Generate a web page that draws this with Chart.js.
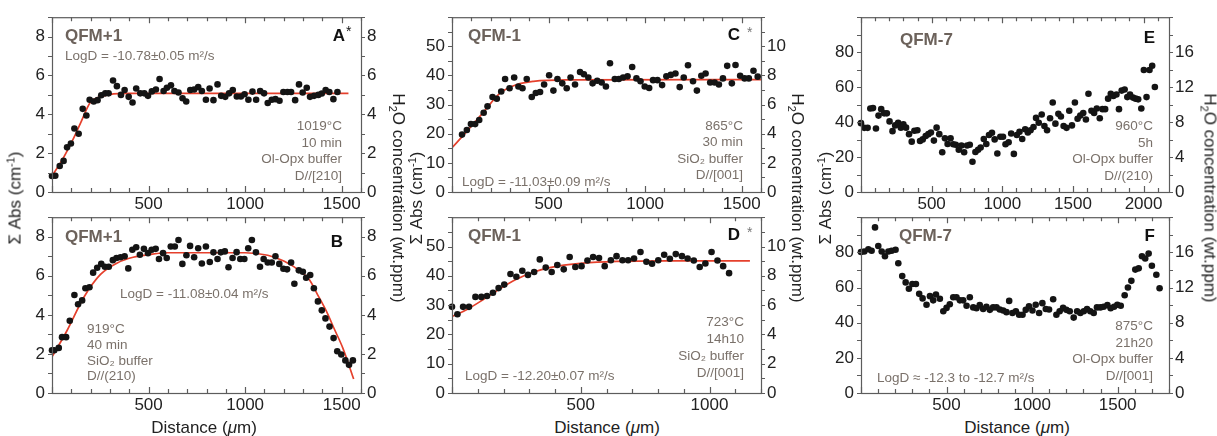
<!DOCTYPE html>
<html>
<head>
<meta charset="utf-8">
<title>H2O diffusion profiles</title>
<script src="https://cdn.jsdelivr.net/npm/chart.js@4.4.1/dist/chart.umd.min.js"></script>
<style>
  html, body { margin: 0; background: #fff; }
  #fig { position: relative; width: 1217px; height: 436px; overflow: hidden;
         font-family: 'Liberation Sans', Arial, sans-serif; color: #222; }
  #fig canvas { position: absolute; }
  .ttl { position: absolute; white-space: nowrap; font-size: 17px; line-height: 1; }
  .ttl sup { font-size: 11px; vertical-align: 6px; line-height: 0; }
  .ttl sub { font-size: 11px; vertical-align: -4px; line-height: 0; }
  .up   { transform: translate(-50%, -50%) rotate(-90deg); }
  .down { transform: translate(-50%, -50%) rotate(90deg); }
  .mid  { transform: translate(-50%, -50%); }
</style>
</head>
<body>
<div id="fig">
  <div class="ttl up" style="left:15px;top:198px">&Sigma; Abs (cm<sup>-1</sup>)</div>
  <div class="ttl up" style="left:416px;top:198px">&Sigma; Abs (cm<sup>-1</sup>)</div>
  <div class="ttl up" style="left:825px;top:198px">&Sigma; Abs (cm<sup>-1</sup>)</div>
  <div class="ttl down" style="left:398px;top:198px">H<sub>2</sub>O concentration (wt.ppm)</div>
  <div class="ttl down" style="left:797px;top:198px">H<sub>2</sub>O concentration (wt.ppm)</div>
  <div class="ttl down" style="left:1210px;top:198px">H<sub>2</sub>O concentration (wt.ppm)</div>
  <div class="ttl mid" style="left:204px;top:427px">Distance (<i>&mu;</i>m)</div>
  <div class="ttl mid" style="left:607px;top:427px">Distance (<i>&mu;</i>m)</div>
  <div class="ttl mid" style="left:1017px;top:427px">Distance (<i>&mu;</i>m)</div>
</div>
<script>
// profili: distanza (um) e Sigma Abs (cm-1)

// A - QFM+1, 1019 C
const aDist = [0, 17, 40, 60, 78, 98, 116, 138, 159, 178,
  195, 216, 236, 255, 276, 293, 316, 336, 357, 376,
  397, 417, 436, 457, 478, 497, 517, 538, 557, 578,
  595, 616, 634, 655, 676, 695, 716, 736, 757, 776,
  797, 816, 836, 857, 876, 897, 917, 936, 957, 978,
  997, 1017, 1038, 1057, 1078, 1098, 1117, 1138, 1157, 1178,
  1198, 1219, 1238, 1259, 1279, 1298, 1319, 1336, 1357, 1379,
  1397, 1417, 1436, 1457, 1478];
const aAbs = [0.82, 0.84, 1.34, 1.6, 2.3, 2.5, 3.27, 3.0, 4.28, 3.94,
  4.75, 4.66, 4.73, 4.98, 5.08, 5.08, 5.74, 5.45, 5.0, 5.25,
  4.9, 4.61, 5.33, 5.08, 5.08, 4.95, 5.18, 5.28, 5.82, 5.2,
  5.37, 5.49, 5.2, 5.12, 4.83, 4.66, 5.25, 5.28, 5.4, 5.2,
  4.75, 5.33, 4.73, 5.54, 4.95, 4.9, 5.08, 5.25, 4.92, 4.92,
  5.03, 4.75, 5.17, 4.75, 5.2, 5.08, 4.58, 4.75, 4.78, 4.7,
  5.15, 5.15, 5.15, 4.73, 5.54, 5.12, 5.37, 4.9, 4.95, 5.0,
  5.07, 5.25, 5.15, 4.78, 5.15];
const aFitDist = [0, 50, 112, 150, 198, 250, 302, 350, 400, 1535];
const aFitAbs = [0.84, 1.6, 2.77, 3.6, 4.61, 4.9, 5.03, 5.07, 5.08, 5.08];

// B - QFM+1, 919 C
const bDist = [0, 12, 35, 52, 73, 92, 116, 135, 156, 173,
  194, 213, 234, 255, 274, 294, 315, 334, 355, 376,
  395, 416, 436, 455, 476, 497, 516, 537, 554, 575,
  594, 615, 636, 655, 675, 696, 715, 736, 757, 776,
  797, 817, 836, 857, 874, 895, 914, 935, 956, 975,
  996, 1016, 1035, 1056, 1077, 1096, 1117, 1138, 1157, 1177,
  1198, 1217, 1238, 1255, 1278, 1299, 1316, 1337, 1356, 1377,
  1397, 1416, 1437, 1458, 1477, 1498, 1519, 1538, 1558];
const bAbs = [2.19, 2.19, 2.31, 2.86, 2.86, 3.7, 5.02, 4.54, 4.74, 5.36,
  5.41, 6.16, 6.41, 6.61, 6.46, 6.46, 6.8, 6.91, 6.95, 7.0,
  6.38, 7.33, 7.46, 7.08, 7.38, 7.16, 7.33, 7.38, 6.86, 7.16,
  6.91, 7.5, 7.5, 7.83, 6.61, 7.05, 7.53, 6.95, 7.41, 6.63,
  7.5, 6.71, 7.2, 6.86, 7.2, 7.25, 6.44, 6.91, 7.21, 6.86,
  6.86, 7.41, 7.83, 7.2, 6.46, 6.86, 6.68, 6.68, 7.0, 6.61,
  6.36, 6.33, 6.68, 5.59, 6.28, 6.21, 5.9, 6.04, 5.36, 4.69,
  4.23, 3.82, 3.4, 2.81, 2.14, 1.97, 1.67, 1.44, 1.67];
const bFitDist = [0, 78, 165, 251, 338, 420, 511, 600, 1000, 1117, 1203, 1290, 1333, 1377, 1420, 1463, 1506, 1562];
const bFitAbs = [1.85, 3.2, 4.9, 6.07, 6.66, 6.95, 7.1, 7.18, 7.18, 7.05, 6.74, 6.2, 5.8, 5.0, 4.2, 3.25, 2.3, 0.72];

// C - QFM-1, 865 C
const cDist = [52, 77, 98, 120, 141, 164, 184, 210, 232, 255,
  275, 298, 322, 344, 365, 387, 413, 434, 456, 477,
  503, 525, 546, 571, 594, 614, 637, 663, 683, 706,
  728, 752, 775, 797, 818, 843, 864, 886, 909, 933,
  955, 976, 998, 1021, 1041, 1064, 1088, 1110, 1133, 1157,
  1179, 1200, 1222, 1248, 1268, 1291, 1313, 1337, 1360, 1382,
  1403, 1425, 1449, 1468, 1492, 1515, 1537, 1561, 1583];
const cAbs = [19.7, 21.3, 23.3, 23.3, 24.7, 27.2, 29.4, 32.6, 32.0, 34.5,
  38.8, 35.6, 39.3, 36.2, 35.6, 38.8, 32.6, 34.0, 34.3, 36.9,
  40.1, 34.8, 38.8, 37.3, 35.6, 39.3, 36.9, 41.2, 40.4, 39.3,
  37.3, 38.2, 37.6, 36.2, 44.2, 38.8, 38.8, 39.3, 39.7, 42.9,
  39.0, 38.0, 36.2, 35.7, 38.4, 38.4, 36.7, 39.7, 40.2, 40.7,
  36.0, 39.3, 43.5, 38.0, 34.8, 39.9, 40.7, 37.6, 37.6, 36.9,
  39.0, 43.3, 37.3, 43.6, 39.9, 39.0, 39.0, 41.6, 39.6];
const cFitDist = [0, 77, 164, 250, 336, 422, 594, 1600];
const cFitAbs = [15.2, 20.8, 27.5, 34, 36.9, 38, 38.5, 38.6];

// D - QFM-1, 723 C
const dDist = [0, 21, 43, 66, 91, 114, 136, 159, 181, 203,
  227, 250, 273, 295, 319, 341, 364, 387, 409, 434,
  457, 479, 503, 526, 548, 571, 593, 617, 639, 662,
  684, 707, 732, 755, 777, 801, 824, 846, 869, 893,
  915, 939, 962, 984, 1008, 1031, 1053, 1076];
const dAbs = [29.4, 26.9, 29.4, 29.4, 32.8, 32.8, 33.1, 34.2, 35.8, 37.0,
  40.6, 39.7, 41.7, 40.3, 41.3, 45.6, 42.8, 41.3, 43.7, 42.2,
  46.4, 43.0, 43.3, 45.2, 46.4, 46.1, 43.3, 45.3, 46.7, 45.3,
  45.3, 45.9, 48.1, 44.8, 44.1, 45.3, 47.2, 45.8, 47.4, 46.7,
  45.9, 45.2, 43.0, 44.2, 48.1, 45.2, 43.3, 40.9];
const dFitDist = [0, 60, 120, 185, 250, 315, 380, 509, 639, 833, 1157];
const dFitAbs = [26.1, 28.6, 31.8, 35.5, 38.8, 41.2, 42.8, 44.3, 44.9, 45.1, 45.1];

// E - QFM-7, 960 C (nessun fit)
const eDist = [0, 23, 47, 66, 85, 106, 124, 143, 164, 183,
  202, 223, 242, 263, 282, 300, 319, 340, 359, 378,
  399, 418, 437, 458, 477, 495, 516, 535, 554, 575,
  594, 613, 634, 653, 671, 692, 711, 730, 751, 770,
  789, 810, 829, 847, 869, 887, 906, 927, 946, 965,
  986, 1005, 1023, 1045, 1063, 1082, 1103, 1122, 1141, 1162,
  1181, 1200, 1221, 1239, 1258, 1279, 1298, 1317, 1338, 1357,
  1376, 1397, 1415, 1434, 1455, 1474, 1493, 1514, 1533, 1552,
  1573, 1592, 1610, 1631, 1650, 1669, 1690, 1709, 1728, 1749,
  1768, 1786, 1808, 1826, 1845, 1866, 1885, 1904, 1925, 1944,
  1962, 1984, 2002, 2021, 2042, 2061, 2080];
const eAbs = [39.4, 36.7, 36.7, 47.8, 48.0, 36.3, 43.7, 47.4, 45.0, 45.0,
  40.4, 34.8, 38.1, 39.6, 36.8, 38.7, 36.8, 33.1, 28.8, 35.0,
  35.3, 29.2, 30.1, 32.0, 33.1, 34.0, 29.4, 36.8, 33.1, 22.7,
  30.7, 27.5, 30.7, 27.3, 27.0, 24.2, 26.6, 22.7, 26.6, 27.0,
  17.3, 22.9, 24.2, 25.5, 30.3, 27.5, 32.6, 33.9, 30.1, 22.0,
  31.6, 31.6, 27.3, 28.5, 33.5, 21.8, 32.6, 34.4, 30.3, 35.9,
  34.0, 35.3, 37.2, 42.4, 39.6, 44.3, 37.8, 35.3, 42.2, 51.2,
  39.1, 44.7, 43.2, 37.8, 36.7, 46.5, 38.1, 51.2, 41.9, 43.7,
  45.2, 41.5, 56.2, 46.5, 45.2, 47.8, 42.2, 47.4, 47.4, 53.4,
  56.2, 54.9, 55.8, 47.4, 58.0, 58.6, 54.3, 55.8, 54.0, 53.4,
  53.0, 47.8, 69.8, 54.3, 69.8, 72.2, 60.1];

// F - QFM-7, 875 C (nessun fit)
const fDist = [0, 19, 43, 62, 82, 101, 121, 140, 160, 179,
  202, 218, 241, 261, 280, 300, 321, 340, 360, 383,
  403, 422, 438, 461, 481, 500, 519, 539, 558, 578,
  597, 617, 636, 656, 675, 694, 714, 733, 753, 772,
  792, 811, 831, 850, 866, 885, 905, 924, 944, 963,
  982, 1002, 1021, 1041, 1060, 1080, 1099, 1123, 1142, 1161,
  1181, 1200, 1220, 1243, 1263, 1282, 1302, 1321, 1340, 1360,
  1379, 1399, 1418, 1440, 1459, 1479, 1498, 1518, 1541, 1560,
  1580, 1603, 1623, 1642, 1661, 1681, 1700, 1726, 1745];
const fAbs = [80.2, 80.5, 81.8, 80.9, 94.2, 83.6, 80.5, 77.8, 80.5, 80.9,
  81.5, 73.8, 66.5, 62.9, 59.3, 62.0, 62.0, 56.4, 53.8, 50.2,
  55.1, 52.7, 56.0, 53.6, 46.5, 48.4, 50.5, 54.5, 54.5, 52.7,
  52.7, 49.6, 54.5, 48.7, 48.2, 50.0, 47.8, 49.1, 47.3, 48.7,
  48.7, 47.5, 46.9, 46.0, 52.4, 45.5, 46.5, 44.5, 44.5, 47.3,
  49.3, 46.9, 50.2, 45.5, 51.1, 47.8, 47.5, 53.3, 44.5, 46.5,
  48.4, 47.3, 46.5, 42.9, 46.5, 45.5, 46.5, 47.8, 46.5, 45.5,
  48.7, 48.7, 49.1, 50.0, 48.2, 49.1, 50.2, 49.6, 55.6, 60.0,
  63.8, 70.2, 70.9, 77.8, 76.5, 79.3, 72.4, 67.3, 59.6];

const RED = '#e5402c';
const DOT = '#141414';
const FRAME = '#5c5c5c';
const NOTE = '#7a716a';
const QFM = '#6c625b';
const FONT = "'Liberation Sans', Arial, sans-serif";

// margini fissi attorno al riquadro del grafico
const PAD_L = 52, PAD_R = 44, PAD_T = 14, PAD_B = 23;

const q = (t, x, y) => ({ t, x, y, font: 'bold 17px ' + FONT, color: QFM, align: 'left' });
const letter = (t, x, y) => ({ t, x, y, font: 'bold 17px ' + FONT, color: '#111', align: 'right' });
const star = (t, x, y, color) => ({ t, x, y, font: '14px ' + FONT, color: color, align: 'left' });
const txt = (t, x, y, align) => ({ t, x, y, font: '13.5px ' + FONT, color: NOTE, align: align });
const lines = (arr, x, y0, dy, align) => arr.map((t, i) => txt(t, x, y0 + i * dy, align));

const panels = [
  { box: { l: 52, t: 14, r: 361, b: 192 }, xMax: 1600, yMax: 9, yStep: 1, yEvery: 2, rMax: 9, rStep: 1, rEvery: 2,
    dist: aDist, abs: aAbs, fitDist: aFitDist, fitAbs: aFitAbs,
    notes: [q('QFM+1', 13, 19), txt('LogD = -10.78\u00b10.05 m\u00b2/s', 13, 39, 'left'),
      letter('A', 293, 19), star('*', 294, 15, '#111'),
      ...lines(['1019\u00b0C', '10 min', 'Ol-Opx buffer', 'D//[210]'], 290, 109, 16.7, 'right')] },
  { box: { l: 52, t: 214, r: 361, b: 393 }, xMax: 1600, yMax: 9, yStep: 1, yEvery: 2, rMax: 9, rStep: 1, rEvery: 2,
    dist: bDist, abs: bAbs, fitDist: bFitDist, fitAbs: bFitAbs,
    notes: [q('QFM+1', 13, 20), letter('B', 291, 25),
      txt('LogD = -11.08\u00b10.04 m\u00b2/s', 68, 77, 'left'),
      ...lines(['919\u00b0C', '40 min', 'SiO\u2082 buffer', 'D//(210)'], 35, 112, 15.8, 'left')] },
  { box: { l: 452, t: 14, r: 761, b: 192 }, xMax: 1600, yMax: 60, yStep: 5, yEvery: 10, rMax: 12, rStep: 1, rEvery: 2,
    dist: cDist, abs: cAbs, fitDist: cFitDist, fitAbs: cFitAbs,
    notes: [q('QFM-1', 16, 19), letter('C', 288, 18), star('*', 295, 16, '#777'),
      txt('LogD = -11.03\u00b10.09 m\u00b2/s', 10, 165, 'left'),
      ...lines(['865\u00b0C', '30 min', 'SiO\u2082 buffer', 'D//[001]'], 291, 109, 16.3, 'right')] },
  { box: { l: 452, t: 214, r: 761, b: 393 }, xMax: 1200, yMax: 60, yStep: 5, yEvery: 10, rMax: 12, rStep: 1, rEvery: 2,
    dist: dDist, abs: dAbs, fitDist: dFitDist, fitAbs: dFitAbs,
    notes: [q('QFM-1', 16, 19), letter('D', 288, 18), star('*', 295, 16, '#777'),
      txt('LogD = -12.20\u00b10.07 m\u00b2/s', 13, 159, 'left'),
      ...lines(['723\u00b0C', '14h10', 'SiO\u2082 buffer', 'D//[001]'], 292, 105, 16.9, 'right')] },
  { box: { l: 861, t: 14, r: 1169, b: 192 }, xMax: 2180, yMax: 100, yStep: 10, yEvery: 20, rMax: 20, rStep: 2, rEvery: 4,
    dist: eDist, abs: eAbs,
    notes: [q('QFM-7', 39, 23), letter('E', 294, 21),
      ...lines(['960\u00b0C', '5h', 'Ol-Opx buffer', 'D//(210)'], 292, 109, 16.7, 'right')] },
  { box: { l: 861, t: 214, r: 1169, b: 393 }, xMax: 1800, yMax: 100, yStep: 10, yEvery: 20, rMax: 20, rStep: 2, rEvery: 4,
    dist: fDist, abs: fAbs,
    notes: [q('QFM-7', 38, 19), letter('F', 294, 19),
      txt('LogD \u2248 -12.3 to -12.7 m\u00b2/s', 16, 161, 'left'),
      ...lines(['875\u00b0C', '21h20', 'Ol-Opx buffer', 'D//[001]'], 292, 109, 16.7, 'right')] }
];

/**
 * Cornice, tacche e testi del pannello: le tacche dell'asse x sono interne
 * (sopra e sotto), quelle degli assi y esterne.
 */
const panelDecor = {
  id: 'panelDecor',
  afterDatasetsDraw(chart, args, opts) {
    const { ctx, chartArea: a, scales } = chart;
    ctx.save();
    ctx.strokeStyle = FRAME;
    ctx.lineWidth = 1.2;
    ctx.beginPath();
    scales.x.ticks.forEach(t => {
      const px = Math.round(scales.x.getPixelForValue(t.value)) + 0.5;
      const len = Math.round(t.value) % 500 === 0 ? 6 : 4;
      ctx.moveTo(px, a.bottom); ctx.lineTo(px, a.bottom - len);
      ctx.moveTo(px, a.top); ctx.lineTo(px, a.top + len);
    });
    scales.y.ticks.forEach(t => {
      const py = Math.round(scales.y.getPixelForValue(t.value)) + 0.5;
      ctx.moveTo(a.left - 4, py); ctx.lineTo(a.left, py);
    });
    scales.y2.ticks.forEach(t => {
      const py = Math.round(scales.y2.getPixelForValue(t.value)) + 0.5;
      ctx.moveTo(a.right, py); ctx.lineTo(a.right + 4, py);
    });
    ctx.stroke();
    ctx.strokeRect(a.left + 0.5, a.top + 0.5, a.width, a.height);

    ctx.textBaseline = 'middle';
    (opts.notes || []).forEach(n => {
      ctx.font = n.font;
      ctx.fillStyle = n.color;
      ctx.textAlign = n.align;
      ctx.fillText(n.t, a.left + n.x, a.top + n.y);
    });
    ctx.restore();
  }
};

function labelEvery(every, max) {
  return v => {
    const r = Math.round(v * 1000) / 1000;
    return (r < max && Math.abs(r / every - Math.round(r / every)) < 1e-6) ? String(r) : '';
  };
}

function yAxis(position, max, step, every, width, pad) {
  return {
    type: 'linear', position, min: 0, max,
    grid: { display: false, drawTicks: false },
    border: { display: false },
    ticks: { stepSize: step, includeBounds: false, autoSkip: false, padding: pad,
             color: '#222', font: { size: 17, family: FONT }, callback: labelEvery(every, max) },
    afterFit: s => { s.width = width; }
  };
}

function renderPanel(p, fig) {
  const w = (p.box.r - p.box.l) + PAD_L + PAD_R;
  const h = (p.box.b - p.box.t) + PAD_T + PAD_B;
  const canvas = document.createElement('canvas');
  canvas.width = w; canvas.height = h;
  canvas.style.left = (p.box.l - PAD_L) + 'px';
  canvas.style.top = (p.box.t - PAD_T) + 'px';
  canvas.style.width = w + 'px'; canvas.style.height = h + 'px';
  fig.insertBefore(canvas, fig.firstChild);

  const datasets = [{
    data: p.dist.map((d, i) => ({ x: d, y: p.abs[i] })),
    pointRadius: 3.3, pointBackgroundColor: DOT, pointBorderColor: DOT, pointBorderWidth: 0,
    showLine: false, clip: false
  }];
  if (p.fitDist) {
    datasets.push({
      data: p.fitDist.map((d, i) => ({ x: d, y: p.fitAbs[i] })),
      showLine: true, borderColor: RED, borderWidth: 1.7, pointRadius: 0,
      cubicInterpolationMode: 'monotone', fill: false
    });
  }

  new Chart(canvas.getContext('2d'), {
    type: 'scatter',
    data: { datasets },
    plugins: [panelDecor],
    options: {
      responsive: false,
      animation: false,
      devicePixelRatio: 1,
      layout: { padding: { top: PAD_T, left: 0, right: 0, bottom: 0 } },
      plugins: { legend: { display: false }, tooltip: { enabled: false }, panelDecor: { notes: p.notes } },
      scales: {
        x: {
          type: 'linear', min: 0, max: p.xMax,
          grid: { display: false, drawTicks: false },
          border: { display: false },
          ticks: { stepSize: 100, includeBounds: false, autoSkip: false, maxRotation: 0, padding: 2,
                   color: '#222', font: { size: 17, family: FONT },
                   callback: v => (Math.round(v) > 0 && Math.round(v) % 500 === 0) ? String(Math.round(v)) : '' },
          afterFit: s => { s.height = PAD_B; }
        },
        y: yAxis('left', p.yMax, p.yStep, p.yEvery, PAD_L, 7),
        y2: yAxis('right', p.rMax, p.rStep, p.rEvery, PAD_R, 6)
      }
    }
  });
}

function init() {
  const fig = document.getElementById('fig');
  panels.forEach(p => renderPanel(p, fig));
}

if (document.readyState === 'loading') {
  document.addEventListener('DOMContentLoaded', init);
} else {
  init();
}
</script>
</body>
</html>
